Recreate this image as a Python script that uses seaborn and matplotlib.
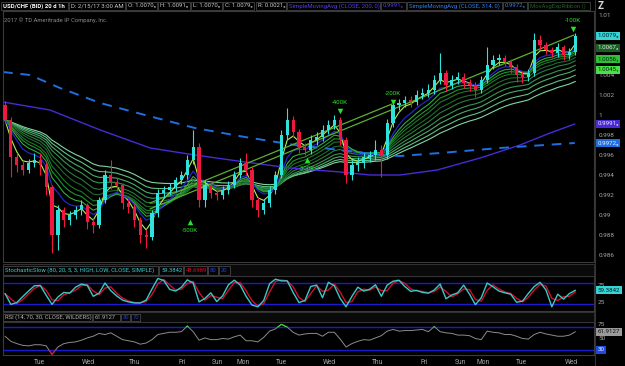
import numpy as np
import pandas as pd
import matplotlib
matplotlib.use("Agg")
import matplotlib.pyplot as plt
import seaborn as sns
from matplotlib.patches import Rectangle
from matplotlib.transforms import blended_transform_factory

# ---------------- data (3-hour bars) ----------------
open_first = 1.0010
close = [0.9995, 0.9958, 0.9950, 0.9945, 0.9952, 0.9955, 0.9950, 0.9928, 0.9880, 0.9905,
         0.9895, 0.9900, 0.9905, 0.9910, 0.9893, 0.9890, 0.9915, 0.9940, 0.9933, 0.9930,
         0.9912, 0.9908, 0.9895, 0.9880, 0.9878, 0.9902, 0.9922, 0.9925, 0.9928, 0.9935,
         0.9940, 0.9955, 0.9968, 0.9915, 0.9930, 0.9922, 0.9920, 0.9925, 0.9930, 0.9940,
         0.9952, 0.9945, 0.9915, 0.9905, 0.9912, 0.9925, 0.9940, 0.9980, 0.9995, 0.9983,
         0.9968, 0.9965, 0.9975, 0.9978, 0.9985, 0.9990, 0.9995, 0.9975, 0.9940, 0.9950,
         0.9952, 0.9958, 0.9960, 0.9965, 0.9960, 0.9992, 1.0010, 1.0012, 1.0015, 1.0013,
         1.0020, 1.0022, 1.0025, 1.0035, 1.0042, 1.0030, 1.0035, 1.0038, 1.0032, 1.0030,
         1.0025, 1.0035, 1.0050, 1.0055, 1.0057, 1.0053, 1.0048, 1.0040, 1.0038, 1.0042,
         1.0075, 1.0070, 1.0065, 1.0062, 1.0068, 1.0060, 1.0063, 1.0079]
high = [1.0014, 0.9998, 0.9962, 0.9954, 0.9956, 0.9962, 0.9962, 0.9953, 0.9930, 0.9910,
        0.9908, 0.9904, 0.9909, 0.9915, 0.9912, 0.9897, 0.9918, 0.9945, 0.9955, 0.9937,
        0.9932, 0.9916, 0.9911, 0.9898, 0.9886, 0.9905, 0.9926, 0.9929, 0.9932, 0.9938,
        0.9944, 0.9960, 0.9985, 0.9972, 0.9935, 0.9934, 0.9926, 0.9929, 0.9934, 0.9944,
        0.9957, 0.9962, 0.9948, 0.9918, 0.9916, 0.9929, 0.9944, 0.9985, 1.0007, 0.9999,
        0.9986, 0.9972, 0.9980, 0.9983, 0.9990, 0.9995, 1.0000, 0.9998, 0.9978, 0.9955,
        0.9958, 0.9962, 0.9964, 0.9975, 0.9970, 0.9996, 1.0014, 1.0016, 1.0019, 1.0019,
        1.0025, 1.0027, 1.0031, 1.0040, 1.0062, 1.0045, 1.0040, 1.0043, 1.0042, 1.0036,
        1.0033, 1.0039, 1.0068, 1.0060, 1.0061, 1.0060, 1.0056, 1.0051, 1.0044, 1.0046,
        1.0082, 1.0080, 1.0073, 1.0068, 1.0072, 1.0070, 1.0067, 1.0082]
low = [0.9992, 0.9938, 0.9943, 0.9940, 0.9942, 0.9948, 0.9940, 0.9920, 0.9862, 0.9865,
       0.9888, 0.9890, 0.9896, 0.9900, 0.9886, 0.9882, 0.9887, 0.9912, 0.9926, 0.9924,
       0.9906, 0.9902, 0.9888, 0.9872, 0.9867, 0.9875, 0.9898, 0.9917, 0.9920, 0.9924,
       0.9931, 0.9936, 0.9951, 0.9908, 0.9908, 0.9917, 0.9915, 0.9916, 0.9921, 0.9927,
       0.9937, 0.9940, 0.9908, 0.9898, 0.9901, 0.9908, 0.9921, 0.9937, 0.9976, 0.9978,
       0.9962, 0.9960, 0.9961, 0.9970, 0.9974, 0.9981, 0.9986, 0.9970, 0.9932, 0.9935,
       0.9944, 0.9947, 0.9953, 0.9955, 0.9938, 0.9956, 0.9988, 1.0005, 1.0008, 1.0008,
       1.0010, 1.0016, 1.0018, 1.0021, 1.0031, 1.0024, 1.0026, 1.0031, 1.0027, 1.0024,
       1.0018, 1.0022, 1.0032, 1.0046, 1.0050, 1.0049, 1.0042, 1.0033, 1.0032, 1.0034,
       1.0039, 1.0066, 1.0061, 1.0058, 1.0058, 1.0055, 1.0056, 1.0060]

sma200_x = [-0.34, 7.65, 16.2, 24.7, 32.3, 40.8, 48.5, 57.0, 62.1, 67.2, 73.5, 80.8, 87.6, 92.7, 96.9]
sma200_y = [1.0013, 1.0005, 0.9985, 0.9967, 0.9960, 0.9953, 0.9947, 0.9943, 0.9940, 0.9940,
            0.9945, 0.9957, 0.9970, 0.9982, 0.9991]
sma314_x = [-0.34, 4.25, 9.35, 16.2, 23.8, 32.3, 40.8, 49.3, 57.0, 63.8, 67.2, 74.0, 84.2, 96.9]
sma314_y = [1.0043, 1.0040, 1.0027, 1.0012, 1.0000, 0.9987, 0.9978, 0.9970, 0.9965, 0.9960,
            0.9959, 0.9962, 0.9967, 0.9972]

stoch_k = [50, 19, 24, 41, 57, 72, 73, 45, 19, 40,
           53, 51, 68, 77, 73, 42, 51, 80, 58, 43,
           31, 26, 23, 23, 31, 63, 93, 87, 62, 57,
           68, 89, 80, 26, 36, 52, 27, 43, 75, 88,
           74, 42, 17, 12, 30, 78, 91, 86, 86, 53,
           24, 30, 70, 74, 38, 82, 72, 36, 12, 42,
           68, 57, 62, 75, 42, 74, 85, 88, 70, 56,
           59, 53, 51, 60, 77, 35, 46, 52, 74, 48,
           18, 38, 80, 69, 57, 52, 48, 25, 28, 50,
           70, 82, 60, 12, 48, 34, 50, 59.38]
rsi = [54, 45, 41, 38, 37, 39, 39, 37, 22, 35,
       41, 43, 44, 47, 51, 54, 59, 57, 60, 54,
       48, 46, 44, 40, 42, 48, 57, 59, 61, 61,
       62, 72, 62, 47, 51, 48, 48, 50, 49, 53,
       56, 46, 46, 44, 52, 63, 67, 75, 70, 61,
       56, 58, 59, 59, 54, 61, 61, 49, 35, 41,
       45, 48, 47, 51, 55, 63, 66, 63, 64, 64,
       65, 66, 62, 71, 62, 60, 59, 56, 56, 55,
       50, 48, 63, 61, 60, 57, 57, 54, 50, 49,
       57, 61, 58, 56, 54, 54, 56, 61.91]

day_labels = ["Tue", "Wed", "Thu", "Fri", "Sun", "Mon", "Tue", "Wed", "Thu", "Fri", "Sun", "Mon", "Tue", "Wed"]
day_pos = [5.8, 14.1, 22.1, 30.1, 36.2, 40.5, 47.1, 55.1, 63.3, 71.3, 77.4, 81.3, 87.9, 96.3]
price_ticks = [0.986, 0.988, 0.99, 0.992, 0.994, 0.996, 0.998, 1.0, 1.002, 1.004, 1.01]

trend_a_x = [24.66, 65.82]
trend_a_y = [0.9912, 1.0011]
trend_b_x = [24.66, 96.77]
trend_b_y = [0.9906, 1.0080]

sig_x = [31.46, 51.36, 56.97, 65.99, 96.6]
sig_y = [0.9893, 0.9955, 1.0004, 1.0013, 1.0086]
sig_text = ["-500K", "-300K", "-400K", "-200K", "-100K"]
sig_up = [True, True, False, False, False]

ribbon_spans = [3, 8, 10, 12, 15, 18, 22, 26, 31, 37]
blue_span = 6

box_vals = [1.0079, 1.0067, 1.0056, 1.0045, 0.9991, 0.9972]
box_text = ["1.0079\u2085", "1.0067\u2083", "1.0056\u2081", "1.0045\u2081", "0.9991\u2085", "0.9972\u2085"]

# ---------------- style ----------------
sns.set_theme(style="dark", rc={"axes.facecolor": "black", "figure.facecolor": "black",
                                "axes.edgecolor": "#3a3a3a", "text.color": "#c8c8c8"})
plt.rcParams["font.family"] = ["Roboto", "DejaVu Sans"]

W, H = 625, 366
fig = plt.figure(figsize=(6.25, 3.66), dpi=100, facecolor="black")


def fx(x):
    return x / W


def fy(y):
    return 1 - y / H


def add_ax(x0, y0, x1, y1):
    ax = fig.add_axes([fx(x0), fy(y1), (x1 - x0) / W, (y1 - y0) / H])
    ax.set_facecolor("black")
    for sp in ax.spines.values():
        sp.set_color("#3a3a3a")
        sp.set_linewidth(0.8)
    ax.grid(False)
    return ax


def box(x0, y0, x1, y1, fc="black", ec="#444444", lw=0.6, z=5):
    fig.add_artist(Rectangle((fx(x0), fy(y1)), (x1 - x0) / W, (y1 - y0) / H,
                             transform=fig.transFigure, fc=fc, ec=ec, lw=lw, zorder=z))


def label(x, y, s, color, size=4.4, weight="normal", ha="left"):
    fig.text(fx(x), fy(y), s, color=color, fontsize=size, fontweight=weight,
             ha=ha, va="center", zorder=10)


axp = add_ax(3, 11, 594, 262)
axs = add_ax(3, 276, 594, 311)
axr = add_ax(3, 322, 594, 355)

n = len(close)
idx = np.arange(n)
c = np.array(close)
o = np.array([open_first] + close[:-1])
hi = np.array(high)
lo = np.array(low)
up = c >= o
UPC, DNC = "#30e2dc", "#f0183e"
cols = np.where(up, UPC, DNC)

# ---------------- price panel ----------------
s_close = pd.Series(close)
rib_cols = ["#b4ee55", "#2fae3c", "#23922f", "#1c7a28", "#1f6a2a", "#2a7c3e",
            "#3a9353", "#4cab69", "#62c083", "#7fd6a2"]
for span, col in list(zip(ribbon_spans, rib_cols))[::-1]:
    ema = s_close.ewm(span=span, adjust=False).mean()
    sns.lineplot(x=idx, y=ema.values, ax=axp, color=col, lw=0.8, legend=False)
blue = s_close.ewm(span=blue_span, adjust=False).mean()
sns.lineplot(x=idx, y=blue.values, ax=axp, color="#2626c8", lw=0.9, legend=False)

sns.lineplot(x=sma200_x, y=sma200_y, ax=axp, color="#4a2ad6", lw=1.0, legend=False)
sns.lineplot(x=sma314_x, y=sma314_y, ax=axp, color="#1f6fe0", lw=1.4, legend=False)
axp.lines[-1].set_dashes((5, 4))

sns.lineplot(x=trend_a_x, y=trend_a_y, ax=axp, color="#5cb030", lw=0.9, legend=False)
sns.lineplot(x=trend_b_x, y=trend_b_y, ax=axp, color="#5cb030", lw=0.9, legend=False)

axp.vlines(idx, lo, hi, colors=cols, lw=0.8, zorder=4)
body = np.maximum(np.abs(c - o), 0.00008)
axp.bar(idx, body, bottom=np.minimum(o, c), width=0.55, color=cols, zorder=5, linewidth=0)

for x, y, t, u in zip(sig_x, sig_y, sig_text, sig_up):
    axp.scatter([x], [y], marker="^" if u else "v", s=16, color="#2ee02e", zorder=6, linewidths=0)
    axp.annotate(t, (x, y), xytext=(0, -6 if u else 6), textcoords="offset points",
                 ha="center", va="center", fontsize=4.4, color="#2ee02e", zorder=6)

axp.set_xlim(-0.34, 100.17)
axp.set_ylim(0.9853, 1.0104)
axp.set_xticks([])
axp.yaxis.tick_right()
axp.set_yticks(price_ticks)
axp.set_yticklabels([f"{round(v, 3):g}" for v in price_ticks])
axp.tick_params(axis="y", length=0, pad=3, labelsize=4.6, labelcolor="#a8a8a8")
axp.set_xlabel("")
axp.set_ylabel("")
axp.text(0.002, 0.965, "2017 \u00a9 TD Ameritrade IP Company, Inc.", transform=axp.transAxes,
         fontsize=4.2, color="#8a8a8a", va="center", ha="left")

trp = blended_transform_factory(axp.transAxes, axp.transData)
box_fc = ["#36d4d4", "#1d5c26", "#2fbf3a", "#49e049", "#4a2ad6", "#1f6fe0"]
box_tc = ["#002020", "#d8f0d8", "#062006", "#062006", "#e8e8ff", "#e8f0ff"]
for v, t, fc_, tc in zip(box_vals, box_text, box_fc, box_tc):
    axp.text(1.0 + 3.5 / 591, v, t, transform=trp, fontsize=4.4, color=tc, va="center", ha="left",
             clip_on=False, zorder=20,
             bbox=dict(boxstyle="square,pad=0.25", fc=fc_, ec="none"))

# ---------------- stochastic panel ----------------
k = pd.Series(stoch_k, dtype=float)
d = k.rolling(2, min_periods=1).mean()
axs.axhline(80, color="#1a1ad2", lw=1.0)
axs.axhline(20, color="#1a1ad2", lw=1.0)
sns.lineplot(x=idx, y=d.values, ax=axs, color="#d0102a", lw=1.0, legend=False)
sns.lineplot(x=idx, y=k.values, ax=axs, color="#3cc8c8", lw=1.0, legend=False)
axs.set_xlim(-0.34, 100.17)
axs.set_ylim(0, 100)
axs.set_xticks([])
axs.yaxis.tick_right()
axs.set_yticks([25, 75])
axs.tick_params(axis="y", length=0, pad=3, labelsize=4.6, labelcolor="#a8a8a8")
axs.set_xlabel("")
axs.set_ylabel("")
trs = blended_transform_factory(axs.transAxes, axs.transData)
axs.text(1.0 + 3.5 / 591, stoch_k[-1], "59.3842", transform=trs, fontsize=4.4, color="#002020",
         va="center", ha="left", clip_on=False, zorder=20,
         bbox=dict(boxstyle="square,pad=0.25", fc="#36d4d4", ec="none"))

# ---------------- RSI panel ----------------
axr.axhline(70, color="#1a1ad2", lw=1.0)
axr.axhline(30, color="#1a1ad2", lw=1.0)
sns.lineplot(x=idx, y=rsi, ax=axr, color="#8c8c8c", lw=0.7, legend=False)
sns.lineplot(x=idx, y=rsi, ax=axr, color="#2ee02e", lw=0.8, legend=False)
axr.lines[-1].set_clip_path(Rectangle((-1, 70), 110, 50, transform=axr.transData))
sns.lineplot(x=idx, y=rsi, ax=axr, color="#e0102a", lw=0.8, legend=False)
axr.lines[-1].set_clip_path(Rectangle((-1, 0), 110, 30, transform=axr.transData))
axr.set_xlim(-0.34, 100.17)
axr.set_ylim(20.9, 79.1)
axr.yaxis.tick_right()
axr.set_yticks([50, 75])
axr.tick_params(axis="y", length=0, pad=3, labelsize=4.6, labelcolor="#a8a8a8")
axr.set_xticks(day_pos)
axr.set_xticklabels(day_labels)
axr.tick_params(axis="x", length=0, pad=3, labelsize=4.8, labelcolor="#a8a8a8")
axr.set_xlabel("")
axr.set_ylabel("")
trr = blended_transform_factory(axr.transAxes, axr.transData)
axr.text(1.0 + 3.5 / 591, rsi[-1], "61.9127", transform=trr, fontsize=4.4, color="#101010",
         va="center", ha="left", clip_on=False, zorder=20,
         bbox=dict(boxstyle="square,pad=0.25", fc="#9a9a9a", ec="none"))
axr.text(1.0 + 3.5 / 591, 30, "30", transform=trr, fontsize=4.4, color="#e8f0ff",
         va="center", ha="left", clip_on=False, zorder=20,
         bbox=dict(boxstyle="square,pad=0.25", fc="#1f4ae0", ec="none"))

# ---------------- headers ----------------
fig.add_artist(plt.Line2D([fx(595), fx(595)], [0, 1], transform=fig.transFigure,
                          color="#333333", lw=0.8))
hdr = [(1, 68, "USD/CHF (BID) 20 d 1h", "#ffffff", "bold"),
       (69, 125, "D: 2/15/17 3:00 AM", "#c8c8c8", "normal"),
       (126, 157, "O: 1.0070\u2085", "#c8c8c8", "normal"),
       (158, 190, "H: 1.0091\u2085", "#c8c8c8", "normal"),
       (191, 222, "L: 1.0070\u2085", "#c8c8c8", "normal"),
       (223, 254, "C: 1.0079\u2085", "#c8c8c8", "normal"),
       (256, 286, "R: 0.0021\u2085", "#c8c8c8", "normal"),
       (287, 380, "SimpleMovingAvg (CLOSE, 200, 0)", "#5a3af0", "normal"),
       (381, 406, "0.9991\u2085", "#5a3af0", "normal"),
       (407, 502, "SimpleMovingAvg (CLOSE, 314, 0)", "#2f80ea", "normal"),
       (503, 527, "0.9972\u2085", "#2f80ea", "normal"),
       (528, 590, "MovAvgExpRibbon ()", "#1f5f24", "normal")]
for x0, x1, t, col, w in hdr:
    box(x0, 1.5, x1, 10)
    label(x0 + 2, 6, t, col, size=4.3, weight=w)
label(598, 6, "Z", "#d8d8d8", size=7, weight="bold")

# stochastic header row
box(3, 264, 594, 276, fc="#0a0a0a", ec="#3a3a3a")
for x0, x1, t, col in [(3, 158, "StochasticSlow (80, 20, 5, 3, HIGH, LOW, CLOSE, SIMPLE)", "#3cc8c8"),
                       (159, 183, "59.3842", "#3cc8c8"), (184, 207, "48.6989", "#d0102a"),
                       (208, 218, "80", "#2a3ad8"), (219, 230, "20", "#2a3ad8")]:
    box(x0, 266, x1, 275, fc="#050505")
    label(x0 + 2, 270.5, t, col, size=4.2)

# RSI header row
box(3, 312, 594, 322, fc="#0a0a0a", ec="#3a3a3a")
for x0, x1, t, col in [(3, 92, "RSI (14, 70, 30, CLOSE, WILDERS)", "#b0b0b0"),
                       (93, 120, "61.9127", "#b0b0b0"), (121, 130, "30", "#2a3ad8"),
                       (131, 140, "70", "#2a3ad8")]:
    box(x0, 313.5, x1, 321, fc="#050505")
    label(x0 + 2, 317.3, t, col, size=4.2)

fig.savefig("out.png", dpi=100, facecolor="black")
